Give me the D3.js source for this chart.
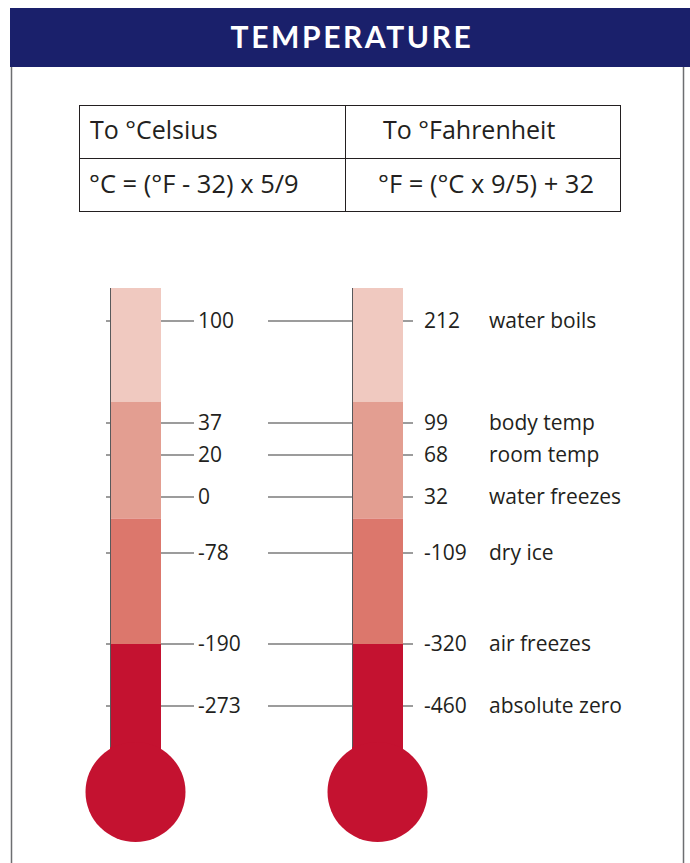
<!DOCTYPE html>
<html>
<head>
<meta charset="utf-8">
<script src="https://cdn.jsdelivr.net/npm/d3@7"></script>
<style>
  body { margin: 0; background: #fff; }
  text { font-family: "Open Sans", Lato, sans-serif; fill: #231f20; }
</style>
</head>
<body>
<script>
// data
const celsius = [100, 37, 20, 0, -78, -190, -273];
const fahrenheit = [212, 99, 68, 32, -109, -320, -460];
const landmarks = ["water boils", "body temp", "room temp", "water freezes", "dry ice", "air freezes", "absolute zero"];
// coloured bands of the tube, by top temperature (°C)
const bandTops = [120, 50, -30, -190];
const bandColors = ["#f0c9c0", "#e39e91", "#dc776c", "#c41230"];
const formulaHeads = ["To °Celsius", "To °Fahrenheit"];
const formulas = ["°C = (°F - 32) x 5/9", "°F = (°C x 9/5) + 32"];

var width = 690, height = 863;

var svg = d3.select("body").append("svg")
  .attr("width", width)
  .attr("height", height);

// panel + header
svg.append("rect")
  .attr("x", 11.5).attr("y", 60)
  .attr("width", 672).attr("height", height)
  .style("fill", "#fff")
  .style("stroke", "#6d6e71")
  .style("stroke-width", 1.5);

svg.append("rect")
  .attr("x", 10).attr("y", 8)
  .attr("width", width).attr("height", 59)
  .style("fill", "#1a206b");

svg.append("text")
  .attr("x", 352).attr("y", 48)
  .style("text-anchor", "middle")
  .style("font-family", "Lato, sans-serif")
  .style("font-size", "30px")
  .style("font-weight", 700)
  .style("letter-spacing", "2.6px")
  .style("fill", "#fff")
  .text("TEMPERATURE");

// formula table
let table = svg.append("g");
let tx = d3.scaleOrdinal().domain([0, 1]).range([79, 345]);
table.append("rect")
  .attr("x", 79.5).attr("y", 105.5)
  .attr("width", 541).attr("height", 106)
  .style("fill", "none").style("stroke", "#231f20").style("stroke-width", 1);
table.append("line")
  .attr("x1", 79.5).attr("x2", 620.5).attr("y1", 158.5).attr("y2", 158.5)
  .style("stroke", "#231f20");
table.append("line")
  .attr("x1", 345.5).attr("x2", 345.5).attr("y1", 105.5).attr("y2", 211.5)
  .style("stroke", "#231f20");

table.selectAll("text.head")
  .data(formulaHeads)
  .enter().append("text")
  .attr("class", "head")
  .attr("x", (d, i) => tx(i) + (i ? 38 : 11))
  .attr("y", 139)
  .style("font-size", "25px")
  .text(d => d);

table.selectAll("text.formula")
  .data(formulas)
  .enter().append("text")
  .attr("class", "formula")
  .attr("x", (d, i) => tx(i) + (i ? 33 : 10))
  .attr("y", 193)
  .style("font-size", "25.5px")
  .text(d => d);

// schematic (non-linear) temperature scale, piecewise
let y = d3.scaleLinear()
  .domain([120, 100, 37, 20, 0, -78, -190, -273])
  .range([288, 321, 423, 455, 497, 553, 644, 706]);

const tubeW = 51, bulbR = 50;
const bulbCy = y(-273) + 86;
let thermoX = [110, 352];

let ticks = celsius.map((c, i) => ({c: c, f: fahrenheit[i], name: landmarks[i]}));

// tick lines (drawn under the tubes)
svg.selectAll("line.tickC")
  .data(ticks).enter().append("line")
  .attr("class", "tickC")
  .attr("x1", thermoX[0] - 4).attr("x2", thermoX[0] + tubeW + 33)
  .attr("y1", d => y(d.c)).attr("y2", d => y(d.c))
  .style("stroke", "#3a3a3a").style("stroke-width", 1.2);

svg.selectAll("line.tickF")
  .data(ticks).enter().append("line")
  .attr("class", "tickF")
  .attr("x1", 268).attr("x2", thermoX[1] + tubeW + 10)
  .attr("y1", d => y(d.c)).attr("y2", d => y(d.c))
  .style("stroke", "#3a3a3a").style("stroke-width", 1.2);

// thermometers
let bands = bandTops.map((t, i) => ({
  top: t,
  bottom: i < bandTops.length - 1 ? bandTops[i + 1] : null,
  color: bandColors[i]
}));

thermoX.forEach(x0 => {
  let g = svg.append("g");
  g.selectAll("rect")
    .data(bands).enter().append("rect")
    .attr("x", x0)
    .attr("y", d => y(d.top))
    .attr("width", tubeW)
    .attr("height", d => (d.bottom === null ? bulbCy : y(d.bottom)) - y(d.top))
    .style("fill", d => d.color);
  g.append("line")
    .attr("x1", x0 + 0.5).attr("x2", x0 + 0.5)
    .attr("y1", y(120)).attr("y2", bulbCy - 45)
    .style("stroke", "#58595b").style("stroke-width", 1);
  g.append("circle")
    .attr("cx", x0 + tubeW / 2)
    .attr("cy", bulbCy)
    .attr("r", bulbR)
    .style("fill", bandColors[bandColors.length - 1]);
});

// labels
svg.selectAll("text.valC")
  .data(ticks).enter().append("text")
  .attr("class", "valC")
  .attr("x", 198)
  .attr("y", d => y(d.c) + 7)
  .style("font-size", "21px")
  .text(d => d.c);

svg.selectAll("text.valF")
  .data(ticks).enter().append("text")
  .attr("class", "valF")
  .attr("x", 424)
  .attr("y", d => y(d.c) + 7)
  .style("font-size", "21px")
  .text(d => d.f);

svg.selectAll("text.name")
  .data(ticks).enter().append("text")
  .attr("class", "name")
  .attr("x", 489)
  .attr("y", d => y(d.c) + 7)
  .style("font-size", "21px")
  .text(d => d.name);
</script>
</body>
</html>
